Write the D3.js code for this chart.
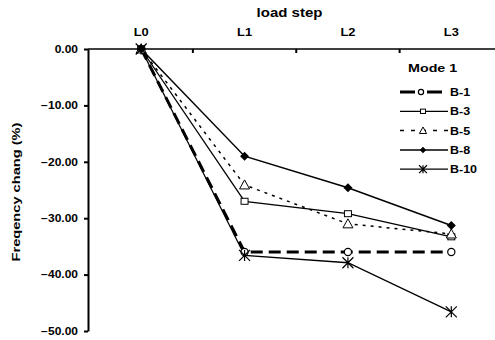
<!DOCTYPE html>
<html lang="en">
<head>
  <meta charset="utf-8" />
  <title>Frequency change by load step</title>
  <script src="https://cdnjs.cloudflare.com/ajax/libs/d3/7.8.5/d3.min.js"></script>
  <style>
    body { margin: 0; background: #fff; font-family: "Liberation Sans", Arial, sans-serif; }
    svg text { font-weight: 700; fill: #000; }
    path.domain { stroke: #000; }
  </style>
</head>
<body>
  <div id="graphic"></div>
  <script>
    // data
    var steps = ["L0", "L1", "L2", "L3"];
    var seriesNames = ["B-1", "B-3", "B-5", "B-8", "B-10"];
    var b1 = [0, -36.0, -36.0, -36.0];
    var b3 = [0, -27.0, -29.2, -33.3];
    var b5 = [0, -24.1, -31.0, -32.8];
    var b8 = [0, -19.0, -24.6, -31.3];
    var b10 = [0, -36.6, -37.9, -46.6];
    var yTicks = [0, -10, -20, -30, -40, -50];

    var series = [
      { name: seriesNames[0], values: b1, marker: "circle", width: 3, dash: "12,6", legendDash: "15,12" },
      { name: seriesNames[1], values: b3, marker: "square", width: 1.3, dash: null, legendDash: null },
      { name: seriesNames[2], values: b5, marker: "triangle", width: 1.5, dash: "3,5", legendDash: "4,7" },
      { name: seriesNames[3], values: b8, marker: "diamond", width: 1.5, dash: null, legendDash: null },
      { name: seriesNames[4], values: b10, marker: "star", width: 1.3, dash: null, legendDash: null }
    ];

    // text in the original is drawn a little wider than normal
    function wideText(parent, x, y, s, size, str, anchor) {
      return parent.append("text")
        .attr("transform", "translate(" + x + "," + y + ") scale(" + s + ",1)")
        .attr("text-anchor", anchor || "start")
        .attr("font-size", size)
        .text(str);
    }

    function drawGraphic() {
      var width = 495, height = 340;
      var marginLeft = 88, plotTop = 49, plotBottom = 331;

      var svg = d3.select("#graphic").append("svg")
        .attr("width", width)
        .attr("height", height);

      var x = d3.scaleBand()
        .domain(steps)
        .range([89.5, 503]);

      var y = d3.scaleLinear()
        .domain([0, -50])
        .range([plotTop, plotBottom]);

      function xc(d) { return x(d) + x.bandwidth() / 2; }

      // y axis
      var yAxis = svg.append("g")
        .attr("transform", "translate(" + marginLeft + ",0)")
        .call(d3.axisLeft(y).tickValues(yTicks).tickSize(4).tickSizeOuter(0)
          .tickFormat(function(d) { return d3.format(".2f")(d); }));
      yAxis.select("path.domain").attr("stroke-width", 2);
      yAxis.selectAll(".tick line").attr("stroke-width", 2);
      yAxis.selectAll("text")
        .attr("font-size", 10)
        .attr("fill", "#000")
        .attr("transform", "scale(1.2,1)")
        .attr("x", -10 / 1.2);

      // x axis on top, ticks between categories pointing down
      var xg = svg.append("g").attr("transform", "translate(0," + plotTop + ")");
      xg.append("line")
        .attr("x1", marginLeft).attr("x2", 503)
        .attr("stroke", "#000").attr("stroke-width", 1.5);
      xg.selectAll("line.tk")
        .data(steps.slice(1))
        .enter().append("line")
        .attr("class", "tk")
        .attr("x1", function(d) { return x(d); })
        .attr("x2", function(d) { return x(d); })
        .attr("y1", 0).attr("y2", 4)
        .attr("stroke", "#000").attr("stroke-width", 2);
      steps.forEach(function(d) {
        wideText(xg, xc(d), -13.5, 1.17, 11, d, "middle");
      });

      wideText(svg, 289.5, 17, 1.2, 12.5, "load step", "middle");

      svg.append("text")
        .attr("transform", "translate(20,192) rotate(-90) scale(1.33,1)")
        .attr("text-anchor", "middle")
        .attr("font-size", 11)
        .style("fill", "#000")
        .text("Freqency chang (%)");

      var line = d3.line()
        .x(function(d, i) { return xc(steps[i]); })
        .y(function(d) { return y(d); });

      // k scales the marker (legend markers are smaller)
      function drawMarker(g, type, cx, cy, k) {
        k = k || 1;
        if (type === "circle") {
          g.append("circle").attr("cx", cx).attr("cy", cy).attr("r", 3.6 * k)
            .attr("fill", "#fff").attr("stroke", "#000").attr("stroke-width", 1.2);
        } else if (type === "square") {
          g.append("rect").attr("x", cx - 3.5 * k).attr("y", cy - 3 * k).attr("width", 7 * k).attr("height", 6 * k)
            .attr("fill", "#fff").attr("stroke", "#000").attr("stroke-width", 1);
        } else if (type === "triangle") {
          g.append("path")
            .attr("d", "M" + cx + "," + (cy - 5 * k) + "L" + (cx + 5 * k) + "," + (cy + 4 * k) + "L" + (cx - 5 * k) + "," + (cy + 4 * k) + "Z")
            .attr("fill", "#fff").attr("stroke", "#000").attr("stroke-width", 1);
        } else if (type === "diamond") {
          var h = 4.5 * k;
          g.append("path")
            .attr("d", "M" + cx + "," + (cy - h) + "L" + (cx + h) + "," + cy + "L" + cx + "," + (cy + h) + "L" + (cx - h) + "," + cy + "Z")
            .attr("fill", "#000");
        } else if (type === "star") {
          var r = 5.5 * k;
          var p = "M" + (cx - r) + "," + (cy - r) + "L" + (cx + r) + "," + (cy + r) +
            "M" + (cx - r) + "," + (cy + r) + "L" + (cx + r) + "," + (cy - r) +
            "M" + cx + "," + (cy - r) + "L" + cx + "," + (cy + r);
          g.append("path").attr("d", p).attr("stroke", "#000").attr("stroke-width", 1.2).attr("fill", "none");
        }
      }

      // series lines
      series.forEach(function(s) {
        svg.append("path")
          .datum(s.values)
          .attr("d", line)
          .attr("fill", "none")
          .attr("stroke", "#000")
          .attr("stroke-width", s.width)
          .attr("stroke-dasharray", s.dash);
      });
      series.forEach(function(s) {
        var g = svg.append("g");
        s.values.forEach(function(v, i) {
          drawMarker(g, s.marker, xc(steps[i]), y(v));
        });
      });

      // legend
      var legend = svg.append("g");
      wideText(legend, 408, 72, 1.3, 11, "Mode 1");
      series.forEach(function(s, i) {
        var ly = 92 + i * 19.3;
        var x2 = s.name === "B-1" ? 442 : 448;
        legend.append("line")
          .attr("x1", 400).attr("x2", x2)
          .attr("y1", ly).attr("y2", ly)
          .attr("stroke", "#000")
          .attr("stroke-width", s.width)
          .attr("stroke-dasharray", s.legendDash);
        drawMarker(legend, s.marker, s.name === "B-1" ? 421 : 423, ly, 0.72);
        wideText(legend, 450, ly + 4, 1.25, 10, s.name);
      });
    }

    drawGraphic();
  </script>
</body>
</html>
